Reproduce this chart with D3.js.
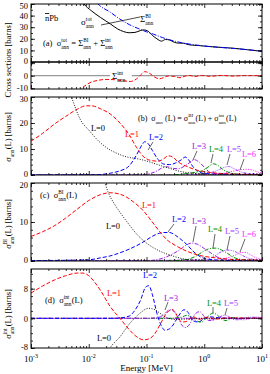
<!DOCTYPE html>
<html>
<head>
<meta charset="utf-8" />
<script src="https://d3js.org/d3.v7.min.js"></script>
<style>
  body { margin: 0; background: #fff; }
  svg text { font-family: "Liberation Serif", "Times New Roman", serif; }
</style>
</head>
<body>
<script>
// all series: [log10(E / MeV), value in barns]
const sigTot = [[-2.2,60],[-2.09,50.5],[-1.95,44],[-1.8,38.5],[-1.63,33],[-1.5,28.5],[-1.4,26.3],[-1.3,25.2],[-1.2,25.5],[-1.1,27.2],[-1.05,27.7],[-0.97,26.5],[-0.9,23],[-0.82,20],[-0.74,18],[-0.67,19.4],[-0.6,19],[-0.52,17],[-0.45,16.3],[-0.36,16.2],[-0.28,15],[-0.2,14.5],[-0.1,14.2],[0,13.7],[0.2,12.9],[0.5,11.9],[0.75,10.6],[1,9.2]];
const sigBI = [[-1.95,57],[-1.84,50],[-1.63,43],[-1.46,37],[-1.3,32.3],[-1.15,29],[-1.0,26],[-0.88,24],[-0.72,21],[-0.5,17.8],[-0.3,15.8],[0,13.8],[0.27,12.6],[0.5,11.7],[0.75,10.6],[1,9.3]];
const sigInt = [[-2.25,-16],[-2.12,-10],[-1.98,-5.6],[-1.85,-3.8],[-1.7,-3],[-1.55,-3.2],[-1.4,-4],[-1.28,-4.6],[-1.17,-2.5],[-1.08,1.5],[-1.03,3.2],[-0.95,2],[-0.87,-0.8],[-0.78,-2.5],[-0.7,-1.5],[-0.62,-0.2],[-0.52,-0.6],[-0.42,-1.6],[-0.33,-0.3],[-0.25,0.2],[-0.17,-0.8],[-0.05,0.2],[0.1,-0.5],[0.3,0.2],[0.5,-0.3],[0.7,0.1],[1,0]];

// panel (b): sigma_ann(L)
const bL0 = [[-2.4,36],[-2.3,30],[-2.15,21.5],[-1.98,16.8],[-1.85,13.5],[-1.69,10.5],[-1.5,8.2],[-1.35,7],[-1.17,6.3],[-1.0,5.4],[-0.85,4.3],[-0.71,3.3],[-0.55,2.2],[-0.42,1.4],[-0.2,0.7],[0,0.3],[0.5,0.1],[1,0.05]];
const bL1 = [[-3,13],[-2.8,16],[-2.6,19.5],[-2.4,22.5],[-2.2,25.3],[-2.05,26.6],[-1.95,26.6],[-1.8,25.5],[-1.63,23.5],[-1.46,20],[-1.3,15.5],[-1.17,10.5],[-1.05,7],[-0.9,5.5],[-0.8,5.3],[-0.7,6.3],[-0.62,7.4],[-0.54,6.8],[-0.45,5],[-0.3,3.3],[-0.15,2],[0,1.3],[0.3,0.6],[0.6,0.3],[1,0.1]];
const bL2 = [[-3,0],[-2,0.1],[-1.8,0.2],[-1.6,0.8],[-1.46,1.6],[-1.3,3.5],[-1.17,7.8],[-1.08,11.5],[-1.03,12.8],[-0.97,12],[-0.9,9.5],[-0.8,6],[-0.7,4.2],[-0.6,4],[-0.5,4.6],[-0.4,5.8],[-0.33,6.9],[-0.27,5.8],[-0.2,3.3],[-0.1,1.3],[0,0.6],[0.3,0.3],[1,0.05]];
const bL3 = [[-3,0],[-1.2,0],[-1.0,0.3],[-0.85,1.2],[-0.75,2.5],[-0.65,3.2],[-0.55,2.6],[-0.45,2.4],[-0.35,3.3],[-0.25,4.8],[-0.17,5.9],[-0.08,4.8],[0,3],[0.1,1],[0.2,0.5],[0.5,0.3],[1,0.1]];
const bL4 = [[-3,0],[-0.6,0],[-0.4,0.3],[-0.2,0.9],[-0.05,1.5],[0.05,2.8],[0.16,4.3],[0.25,3.5],[0.33,2],[0.45,0.8],[0.6,0.3],[1,0.1]];
const bL5 = [[-3,0],[-0.3,0],[0,0.5],[0.2,1.5],[0.33,2.8],[0.42,3.3],[0.5,2.6],[0.6,1.5],[0.75,0.6],[1,0.2]];
const bL6 = [[-3,0],[0,0.1],[0.3,0.5],[0.5,1.5],[0.62,2.0],[0.75,2.2],[0.85,1.8],[0.95,1.0],[1,0.8]];

// panel (c): sigma^BI_ann(L)
const cL0 = [[-1.8,24],[-1.72,20],[-1.66,17.5],[-1.55,14.5],[-1.46,12.5],[-1.3,9.3],[-1.17,6.9],[-1.0,4.6],[-0.88,3.4],[-0.75,2.4],[-0.59,1.5],[-0.3,0.4],[0,0.1],[1,0]];
const cL1 = [[-3,6.3],[-2.8,7.5],[-2.6,9],[-2.4,11],[-2.2,13.3],[-2.0,15.5],[-1.8,17],[-1.63,17.5],[-1.45,17.1],[-1.23,15.2],[-1.05,12.8],[-0.9,10],[-0.77,7.5],[-0.65,5.5],[-0.5,4],[-0.3,2.5],[-0.1,1.5],[0.2,0.8],[0.5,0.4],[1,0.2]];
const cL2 = [[-3,0.1],[-2,0.3],[-1.8,0.8],[-1.63,1.3],[-1.46,2.1],[-1.29,3.1],[-1.1,4.5],[-1.0,5.4],[-0.85,6.7],[-0.7,7.3],[-0.6,7.3],[-0.5,6.6],[-0.4,5.5],[-0.3,4.2],[-0.2,2.6],[-0.07,1.1],[0.1,0.4],[0.5,0.1],[1,0]];
const cL3 = [[-3,0],[-0.95,0.1],[-0.8,0.4],[-0.7,0.8],[-0.55,1.8],[-0.42,2.9],[-0.32,4.0],[-0.22,4.6],[-0.12,4.3],[0,3.2],[0.1,2.2],[0.2,1.2],[0.35,0.5],[0.6,0.2],[1,0.1]];
const cL4 = [[-3,0],[-0.5,0.1],[-0.3,0.4],[-0.15,1.2],[0,2.6],[0.1,3.2],[0.2,3.3],[0.3,2.8],[0.4,2],[0.5,1],[0.65,0.4],[1,0.1]];
const cL5 = [[-3,0],[0,0.3],[0.15,1],[0.3,2.4],[0.4,2.8],[0.5,2.6],[0.6,1.9],[0.72,1],[0.85,0.4],[1,0.2]];
const cL6 = [[-3,0],[0.2,0.2],[0.4,0.8],[0.55,1.6],[0.65,2.2],[0.72,2.2],[0.8,1.6],[0.9,0.8],[1,0.4]];

// panel (d): sigma^int_ann(L)
const dL0 = [[-1.7,-10],[-1.63,-8],[-1.46,-5],[-1.29,-1.4],[-1.11,1.4],[-0.97,2.7],[-0.85,2.3],[-0.77,1.4],[-0.65,0.2],[-0.5,-0.3],[-0.3,-0.2],[0,0],[1,0]];
const dL1 = [[-3,6.8],[-2.8,8.7],[-2.6,10.3],[-2.4,11.5],[-2.2,12.2],[-2.1,12.2],[-2.0,11.5],[-1.9,9.8],[-1.8,7.6],[-1.63,3.2],[-1.46,0],[-1.29,-3.2],[-1.15,-5.2],[-1.05,-5.8],[-0.95,-5.5],[-0.85,-4],[-0.77,-1.8],[-0.65,1.4],[-0.56,2.4],[-0.5,1.6],[-0.45,0],[-0.38,-1],[-0.3,-0.8],[-0.2,0.5],[-0.1,-0.3],[0.05,0.3],[0.2,-0.2],[0.4,0.1],[1,0]];
const dL2 = [[-3,0],[-1.6,0],[-1.46,0.1],[-1.3,0.6],[-1.2,2.2],[-1.1,5],[-1.02,8.3],[-0.96,8.8],[-0.9,6.5],[-0.82,1.4],[-0.75,-1.8],[-0.68,-3.2],[-0.6,-2.8],[-0.54,-1.8],[-0.45,0.5],[-0.35,2.3],[-0.28,1.6],[-0.2,-0.6],[-0.1,-1],[0,0],[0.1,0.4],[0.3,0],[1,0]];
const dL3 = [[-3,0],[-1,0],[-0.8,0.2],[-0.7,1],[-0.6,2.3],[-0.52,1.8],[-0.45,0],[-0.38,-2],[-0.32,-2.5],[-0.25,-1.5],[-0.15,1.3],[-0.08,1.8],[0,0.5],[0.08,-0.6],[0.15,-0.5],[0.25,0.3],[0.4,0],[1,0]];
const dL4 = [[-3,0],[-0.6,0],[-0.4,0.3],[-0.3,0.8],[-0.22,0.3],[-0.12,-0.8],[-0.05,-1],[0.05,0.3],[0.15,1.4],[0.22,1],[0.3,-0.2],[0.38,-0.6],[0.5,0.2],[0.6,0],[1,0]];
const dL5 = [[-3,0],[0,0],[0.15,-0.4],[0.25,0.3],[0.35,0.8],[0.42,0.5],[0.5,-0.3],[0.6,-0.4],[0.7,0.1],[0.85,0.3],[1,0.1]];
const dL6 = [[-3,0],[0.3,0],[0.5,0.2],[0.6,-0.3],[0.7,-0.4],[0.8,0],[0.9,0.3],[1,0.2]];

// tick values
const xMajor = [1e-3, 1e-2, 1e-1, 1, 10];
const xMinor = d3.merge([1e-3, 1e-2, 1e-1, 1].map(d => d3.range(2, 10).map(k => d * k)));
const aTicks = [0, 10, 20, 30, 40, 50];
const a2Ticks = [-10, 0, 10];
const a2Labels = [-10, 0];
const bTicks = [0, 10, 20, 30];
const cTicks = [0, 10, 20];
const dTicks = [-8, 0, 8];

const W = 270, H = 374;
const left = 31, right = 262;
const svg = d3.select('body').append('svg').attr('width', W).attr('height', H);

const x = d3.scaleLog().domain([1e-3, 10]).range([left, right]);

const style = {
  L0: { color: '#000000', dash: '1,1.5', w: 0.9 },
  L1: { color: '#ff0000', dash: '4,2', w: 1 },
  L2: { color: '#0000ff', dash: '4,2', w: 1 },
  L3: { color: '#9b20e0', dash: '4,1.5,1,1.5', w: 1 },
  L4: { color: '#009000', dash: '4,1.5,1,1.5', w: 1 },
  L5: { color: '#a040ff', dash: '3,1.2,1,1.2,1,1.2', w: 1 },
  L6: { color: '#ff30ff', dash: '1.2,1.3', w: 1 }
};

function rich(parent, px, py, parts, o = {}) {
  const fs = o.size || 8.5, small = fs * 0.62;
  const g = parent.append('g').attr('fill', o.color || '#000');
  const inner = g.append('g');
  let cx = 0;
  parts.forEach(p => {
    if (typeof p === 'string') {
      const t = inner.append('text').attr('x', cx).attr('y', 0)
        .attr('font-size', fs).attr('xml:space', 'preserve').text(p);
      cx += t.node().getComputedTextLength();
    } else {
      let w = 0;
      if (p.sup) {
        const t = inner.append('text').attr('x', cx).attr('y', -fs * 0.45)
          .attr('font-size', small).text(p.sup);
        w = Math.max(w, t.node().getComputedTextLength());
      }
      if (p.sub) {
        const t = inner.append('text').attr('x', cx).attr('y', fs * 0.35)
          .attr('font-size', small).text(p.sub);
        w = Math.max(w, t.node().getComputedTextLength());
      }
      cx += w + (p.gap || 0.3);
    }
  });
  const shift = o.anchor === 'middle' ? -cx / 2 : o.anchor === 'end' ? -cx : 0;
  inner.attr('transform', `translate(${shift},0)`);
  g.attr('transform', `translate(${px},${py})` + (o.rotate ? ' rotate(-90)' : ''));
  return g;
}

const panels = [
  { id: 'a', top: 4, bottom: 62, domain: [0, 50], major: aTicks, minor: d3.range(0, 51, 5), labels: aTicks },
  { id: 'a2', top: 62, bottom: 89, domain: [-10.6, 10.9], major: a2Ticks, minor: d3.range(-10, 11, 5), labels: a2Labels },
  { id: 'b', top: 97, bottom: 175, domain: [0, 30], major: bTicks, minor: d3.range(0, 31, 2), labels: bTicks },
  { id: 'c', top: 183, bottom: 261, domain: [0, 20], major: cTicks, minor: d3.range(0, 21, 2), labels: cTicks },
  { id: 'd', top: 269, bottom: 348, domain: [-8, 13.3], major: dTicks, minor: d3.range(-8, 13, 2), labels: dTicks }
];

const line = (y) => d3.line()
  .x(d => x(Math.pow(10, d[0])))
  .y(d => y(d[1]))
  .curve(d3.curveMonotoneX);

const P = {};
panels.forEach(p => {
  const y = d3.scaleLinear().domain(p.domain).range([p.bottom, p.top]);
  const g = svg.append('g');
  svg.append('clipPath').attr('id', 'clip-' + p.id)
    .append('rect').attr('x', left).attr('y', p.top)
    .attr('width', right - left).attr('height', p.bottom - p.top);
  const plot = g.append('g').attr('clip-path', `url(#clip-${p.id})`);

  const strip = s => s.call(a => a.select('.domain').remove());
  const fmt = d => p.labels.includes(d) ? d3.format('d')(d).replace('\u2212', '-') : '';
  // y axes
  g.append('g').attr('transform', `translate(${left},0)`)
    .call(d3.axisLeft(y).tickValues(p.minor).tickSize(-2).tickFormat('')).call(strip);
  const yl = g.append('g').attr('transform', `translate(${left},0)`)
    .call(d3.axisLeft(y).tickValues(p.major).tickSize(-4).tickPadding(3).tickFormat(fmt)).call(strip);
  // keep labels at the panel edges from touching the neighbour panel's labels
  yl.selectAll('.tick text').attr('dy', d => d === p.domain[1] ? '0.5em' : d === p.domain[0] ? '0.2em' : '0.32em');
  g.append('g').attr('transform', `translate(${right},0)`)
    .call(d3.axisRight(y).tickValues(p.minor).tickSize(-2).tickFormat('')).call(strip);
  g.append('g').attr('transform', `translate(${right},0)`)
    .call(d3.axisRight(y).tickValues(p.major).tickSize(-4).tickFormat('')).call(strip);
  // x axes
  [[d3.axisTop, p.top], [d3.axisBottom, p.bottom]].forEach(([ax, yy]) => {
    g.append('g').attr('transform', `translate(0,${yy})`)
      .call(ax(x).tickValues(xMinor).tickSize(-2).tickFormat('')).call(strip);
    g.append('g').attr('transform', `translate(0,${yy})`)
      .call(ax(x).tickValues(xMajor).tickSize(-4).tickFormat('')).call(strip);
  });
  g.selectAll('.tick text').attr('font-size', 8.5).attr('font-family', '"Liberation Serif", serif').attr('fill', '#000');
  g.selectAll('.tick line').attr('stroke', '#000').attr('stroke-width', 0.8);
  g.append('rect').attr('x', left).attr('y', p.top)
    .attr('width', right - left).attr('height', p.bottom - p.top)
    .attr('fill', 'none').attr('stroke', '#000').attr('stroke-width', 1);
  P[p.id] = { y, g, plot };
});

function draw(panelId, data, st) {
  const { y, plot } = P[panelId];
  plot.append('path').attr('d', line(y)(data))
    .attr('fill', 'none').attr('stroke', st.color)
    .attr('stroke-width', st.w).attr('stroke-dasharray', st.dash);
}

// panel (a)
draw('a', sigTot, { color: '#000', dash: null, w: 1 });
draw('a', sigBI, { color: '#0000ff', dash: '5,1.5,1,1.5', w: 1 });

// panel (a2): zero line, broken for the label
const ya2 = P.a2.y;
P.a2.plot.append('line').attr('x1', x(1e-3)).attr('x2', x(0.0233))
  .attr('y1', ya2(0)).attr('y2', ya2(0)).attr('stroke', '#999').attr('stroke-width', 1.2);
P.a2.plot.append('line').attr('x1', x(0.0555)).attr('x2', x(10))
  .attr('y1', ya2(0)).attr('y2', ya2(0)).attr('stroke', '#999').attr('stroke-width', 1.2);
draw('a2', sigInt, style.L1);

const series = {
  b: [bL0, bL1, bL2, bL3, bL4, bL5, bL6],
  c: [cL0, cL1, cL2, cL3, cL4, cL5, cL6],
  d: [dL0, dL1, dL2, dL3, dL4, dL5, dL6]
};
Object.keys(series).forEach(k => {
  for (let L = 6; L >= 0; L--) draw(k, series[k][L], style['L' + L]);
});

// x tick labels on the bottom panel
xMajor.forEach(v => {
  const t = svg.append('text').attr('x', x(v)).attr('y', 362)
    .attr('text-anchor', 'middle').attr('font-size', 9);
  t.append('tspan').text('10');
  t.append('tspan').attr('dy', -4).attr('font-size', 6).text(String(Math.round(Math.log10(v))));
});
svg.append('text').attr('x', (left + right) / 2).attr('y', 371)
  .attr('text-anchor', 'middle').attr('font-size', 9).text('Energy [MeV]');

// y axis titles
rich(svg, 11, 60, ['Cross sections [barns]'], { rotate: true, anchor: 'middle', size: 8.5 });
rich(svg, 11, 137, ['\u03c3', { sub: 'ann' }, '(L) [barns]'], { rotate: true, anchor: 'middle', size: 8.5 });
rich(svg, 11, 224, ['\u03c3', { sup: 'BI', sub: 'ann' }, '(L) [barns]'], { rotate: true, anchor: 'middle', size: 8.5 });
rich(svg, 11, 314, ['\u03c3', { sup: 'int', sub: 'ann' }, '(L) [barns]'], { rotate: true, anchor: 'middle', size: 8.5 });

// panel (a) texts
const nbar = svg.append('text').attr('x', 45).attr('y', 21).attr('font-size', 8.5);
nbar.append('tspan').attr('text-decoration', 'overline').text('n');
nbar.append('tspan').text('Pb');
rich(svg, 81, 25, ['\u03c3', { sup: 'tot', sub: 'ann' }], { size: 9 });
rich(svg, 140, 22, ['\u03a3', { sup: 'BI', sub: 'ann' }], { size: 9 });
svg.append('line').attr('x1', 101).attr('y1', 25).attr('x2', 140).attr('y2', 17)
  .attr('stroke', '#000').attr('stroke-width', 0.7);
rich(svg, 43, 46, ['(a)  \u03c3', { sup: 'tot', sub: 'ann' }, ' = \u03a3', { sup: 'BI', sub: 'ann' }, ' + \u03a3', { sup: 'int', sub: 'ann' }], { size: 8.5 });
rich(svg, 112, 79, ['\u03a3', { sup: 'int', sub: 'ann' }], { size: 9 });

// panel (b) texts
rich(svg, 138, 121, ['(b)  \u03c3', { sub: 'ann' }, ' (L) = \u03c3', { sup: 'BI', sub: 'ann' }, '(L) + \u03c3', { sup: 'int', sub: 'ann' }, '(L)'], { size: 8 });

function lab(px, py, txt, L, lead) {
  svg.append('text').attr('x', px).attr('y', py).attr('text-anchor', 'middle')
    .attr('font-size', 8.5).attr('fill', style['L' + L].color).text(txt);
  if (lead) svg.append('line').attr('x1', lead[0]).attr('y1', lead[1]).attr('x2', lead[2]).attr('y2', lead[3])
    .attr('stroke', '#000').attr('stroke-width', 0.6);
}
lab(98, 131, 'L=0', 0);
lab(132, 137, 'L=1', 1);
lab(156, 140, 'L=2', 2, [153, 142, 148, 150]);
lab(199, 149, 'L=3', 3, [197, 151, 193, 160]);
lab(216, 152, 'L=4', 4, [213, 154, 211, 163]);
lab(234, 152, 'L=5', 5, [230, 154, 227, 165]);
lab(249, 157, 'L=6', 6, [244, 159, 240, 170]);

// panel (c) texts
rich(svg, 40, 198, ['(c)  \u03c3', { sup: 'BI', sub: 'ann' }, '(L)'], { size: 8.5 });
lab(149, 208, 'L=1', 1);
lab(113, 229, 'L=0', 0);
lab(179, 222, 'L=2', 2, [174, 224, 168, 232]);
lab(199, 224, 'L=3', 3, [196, 226, 193, 242]);
lab(215, 232, 'L=4', 4, [215, 234, 213, 248]);
lab(232, 234, 'L=5', 5, [230, 236, 227, 250]);
lab(249, 237, 'L=6', 6, [245, 239, 240, 252]);

// panel (d) texts
rich(svg, 45, 303, ['(d)  \u03c3', { sup: 'int', sub: 'ann' }, '(L)'], { size: 8.5 });
lab(114, 296, 'L=1', 1);
lab(150, 278, 'L=2', 2);
lab(171, 301, 'L=3', 3, [168, 302, 165, 310]);
lab(104, 341, 'L=0', 0);
lab(214, 306, 'L=4', 4, [213, 307, 213, 313]);
lab(231, 306, 'L=5', 5, [227, 308, 225, 315]);
</script>
</body>
</html>
